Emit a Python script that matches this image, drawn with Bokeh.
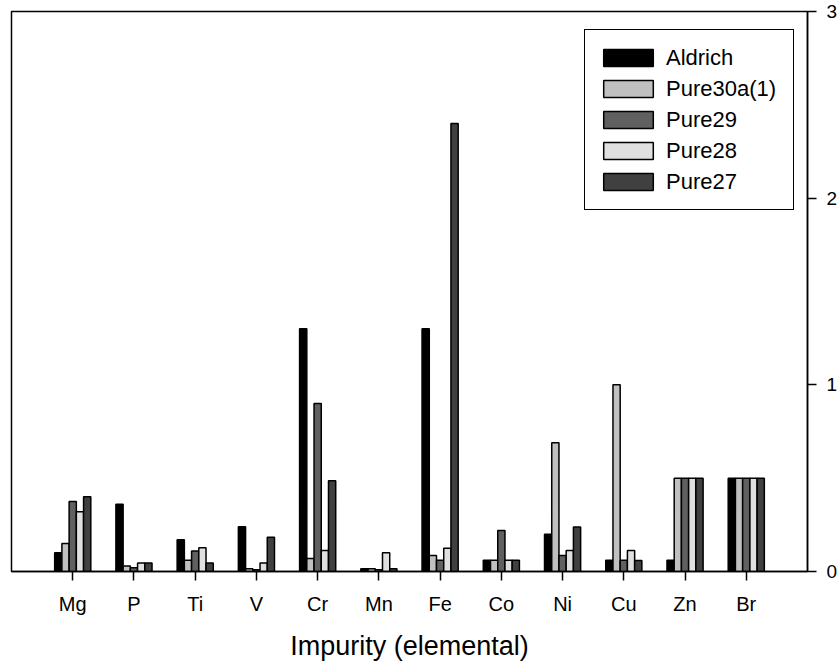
from bokeh.plotting import figure
from bokeh.models import Range1d, FixedTicker
from bokeh.embed import file_html
from bokeh.resources import INLINE

# ---- data ----
elements = ["Mg", "P", "Ti", "V", "Cr", "Mn", "Fe", "Co", "Ni", "Cu", "Zn", "Br"]
series_names = ["Aldrich", "Pure30a(1)", "Pure29", "Pure28", "Pure27"]
aldrich = [0.10, 0.36, 0.17, 0.24, 1.30, 0.015, 1.30, 0.06, 0.20, 0.06, 0.06, 0.50]
pure30a = [0.15, 0.03, 0.06, 0.015, 0.07, 0.015, 0.086, 0.06, 0.69, 1.00, 0.50, 0.50]
pure29 = [0.375, 0.02, 0.11, 0.01, 0.90, 0.01, 0.06, 0.22, 0.086, 0.06, 0.50, 0.50]
pure28 = [0.32, 0.045, 0.127, 0.045, 0.113, 0.10, 0.125, 0.06, 0.113, 0.113, 0.50, 0.50]
pure27 = [0.40, 0.045, 0.045, 0.184, 0.486, 0.015, 2.40, 0.06, 0.238, 0.059, 0.50, 0.50]
y_ticks = [0, 1, 2, 3]
x_title = "Impurity (elemental)"

series_values = [aldrich, pure30a, pure29, pure28, pure27]
colors = ["#000000", "#c0c0c0", "#606060", "#e0e0e0", "#404040"]

FONT = "Liberation Sans"
bar_w = 0.118

p = figure(width=840, height=665, output_backend="svg", toolbar_location=None,
           x_range=Range1d(-1, 12), y_range=Range1d(0, 3),
           y_axis_location="right",
           min_border_left=11, min_border_top=11, min_border_right=32, min_border_bottom=94)

p.xgrid.visible = False
p.ygrid.visible = False
p.outline_line_color = "black"
p.outline_line_width = 1.5
p.outline_line_alpha = 1.0
p.background_fill_color = "white"
p.border_fill_color = "white"

idx = list(range(len(elements)))
for k, (name, vals, col) in enumerate(zip(series_names, series_values, colors)):
    xs = [i + (k - 2) * bar_w for i in idx]
    p.vbar(x=xs, top=vals, bottom=0, width=bar_w, fill_color=col,
           line_color="black", line_width=1.5, legend_label=name)

# x axis
xa = p.xaxis[0]
xa.ticker = FixedTicker(ticks=idx)
xa.major_label_overrides = {i: e for i, e in zip(idx, elements)}
xa.minor_tick_line_color = None
xa.major_tick_in = 0
xa.major_tick_out = 9
xa.major_tick_line_width = 1.5
xa.axis_line_width = 1.5
xa.major_label_text_font = FONT
xa.major_label_text_font_size = "20px"
xa.major_label_text_color = "black"
xa.major_label_standoff = 12
xa.axis_label = x_title
xa.axis_label_text_font = FONT
xa.axis_label_text_font_size = "27px"
xa.axis_label_text_font_style = "normal"
xa.axis_label_text_color = "black"
xa.axis_label_standoff = 13

# y axis (right)
ya = p.yaxis[0]
ya.ticker = FixedTicker(ticks=y_ticks)
ya.minor_tick_line_color = None
ya.major_tick_in = 0
ya.major_tick_out = 9
ya.major_tick_line_width = 1.5
ya.axis_line_width = 1.5
ya.major_label_text_font = FONT
ya.major_label_text_font_size = "19px"
ya.major_label_text_color = "black"
ya.major_label_standoff = 10

# legend
lg = p.legend[0]
lg.location = (573, 361)
lg.margin = 0
lg.padding = 12
lg.spacing = 0
lg.glyph_width = 62
lg.glyph_height = 21
lg.label_height = 31
lg.label_width = 115
lg.label_standoff = 7
lg.label_text_font = FONT
lg.label_text_font_size = "22px"
lg.label_text_color = "black"
lg.border_line_color = "black"
lg.border_line_width = 1.5
lg.border_line_alpha = 1.0
lg.background_fill_alpha = 1.0

open("out.html", "w").write(file_html(p, INLINE))
